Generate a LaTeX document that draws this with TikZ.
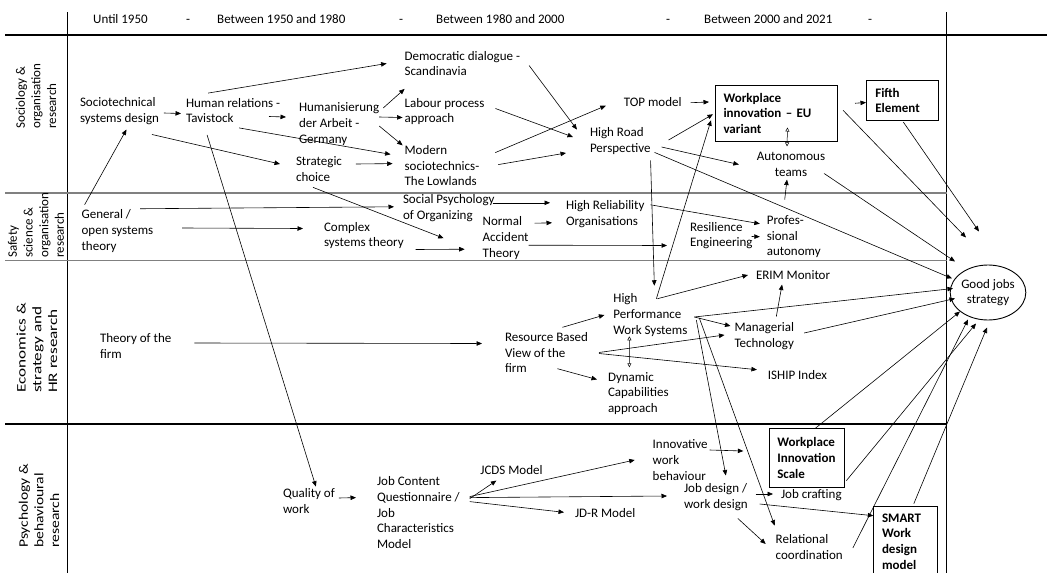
\documentclass[tikz,border=0pt]{standalone}
\usepackage{fontspec}
\setmainfont{Carlito}
\usetikzlibrary{arrows.meta,shapes.geometric}

\begin{document}
\begin{tikzpicture}[
    x=1pt, y=-1pt,
    font=\fontsize{13}{15.7}\selectfont,
    txt/.style={
        anchor=west,
        align=left,
        inner sep=0pt,
        outer sep=0pt
    },
    hdr/.style={
        anchor=base west,
        inner sep=0pt
    },
    rowlabel/.style={
        anchor=west,
        align=left,
        inner sep=0pt,
        rotate=90
    },
    bx/.style={
        draw,
        line width=1pt,
        anchor=north west,
        align=left,
        inner ysep=0pt,
        font=\fontsize{13}{15.7}\selectfont\bfseries
    },
    goal/.style={
        draw,
        ellipse,
        line width=0.9pt,
        align=center,
        inner sep=0pt,
        minimum width=71pt,
        minimum height=55pt
    },
    arr/.style={-{Triangle[length=5.5pt,width=4.5pt]}, line width=0.6pt},
    dbl/.style={{Triangle[open,length=4pt,width=4pt]}-{Triangle[open,length=4pt,width=4pt]}, line width=0.5pt},
    grid/.style={line width=1.1pt},
    greygrid/.style={line width=1.1pt, black!50}
]

\fill[white] (0,0) rectangle (1047,573);
\useasboundingbox (0,0) rectangle (1047,573);

% table lines
\draw[grid] (5,35) -- (1047,35);
\draw[grid] (67.5,12) -- (67.5,573);
\draw[grid] (946.5,12) -- (946.5,573);
\draw[greygrid] (5,193) -- (946.5,193);
\draw[greygrid] (5,260.5) -- (946.5,260.5);
\draw[grid] (5,424) -- (946.5,424);

% header
\node[hdr] (h1) at (93,23.5) {Until 1950};
\node[hdr] (h2) at (186,23.5) {-};
\node[hdr] (h3) at (217,23.5) {Between 1950 and 1980};
\node[hdr] (h4) at (399,23.5) {-};
\node[hdr] (h5) at (436,23.5) {Between 1980 and 2000};
\node[hdr] (h6) at (666,23.5) {-};
\node[hdr] (h7) at (704,23.5) {Between 2000 and 2021};
\node[hdr] (h8) at (868,23.5) {-};

% row labels
\node[rowlabel] (r1) at (36,129) {Sociology \&\\organisation\\research};
\node[rowlabel] (r2) at (36,258) {Safety\\science \&\\organisation\\research};
\node[rowlabel, xscale=1.32] (r3) at (37,393) {Economics \&\\strategy and\\HR research};
\node[rowlabel, xscale=1.2] (r4) at (39,548) {Psychology \&\\behavioural\\research};

% sociology row
\node[txt] (std) at (80,111) {Sociotechnical\\systems design};
\node[txt] (hr) at (186,110.5) {Human relations -\\Tavistock};
\node[txt] (hda) at (299,124) {Humanisierung\\der Arbeit -\\Germany};
\node[txt] (dd) at (404.6,63.5) {Democratic dialogue -\\Scandinavia};
\node[txt] (lpa) at (404.6,111.5) {Labour process\\approach};
\node[txt] (ms) at (404.6,165.6) {Modern\\sociotechnics-\\The Lowlands};
\node[txt] (sc) at (296,169) {Strategic\\choice};
\node[txt] (topm) at (623.8,101.7) {TOP model};
\node[txt] (hrp) at (590,141) {High Road\\Perspective};
\node[bx, text width=106pt, inner xsep=8pt, minimum height=55.5pt] (wi) at (715,85)
    {Workplace\\innovation – EU\\variant};
\node[bx, text width=54pt, inner xsep=8.8pt, minimum height=40pt] (fifth) at (866,80)
    {Fifth\\Element};
\node[txt, anchor=center, align=center] (at) at (791,164.5) {Autonomous\\teams};

% safety row
\node[txt] (gos) at (81.6,231) {General /\\open systems\\theory};
\node[txt] (spo) at (403,207.8) {Social Psychology\\of Organizing};
\node[txt] (cst) at (324,235.5) {Complex\\systems theory};
\node[txt] (nat) at (482.7,238.2) {Normal\\Accident\\Theory};
\node[txt] (hro) at (566,213.8) {High Reliability\\Organisations};
\node[txt] (re) at (690,235.5) {Resilience\\Engineering};
\node[txt] (pa) at (766.8,236.7) {Profes-\\sional\\autonomy};

% economics row
\node[txt] (tof) at (100,346) {Theory of the\\firm};
\node[txt] (rbv) at (505,352.5) {Resource Based\\View of the\\firm};
\node[txt] (hpws) at (613.4,315) {High\\Performance\\Work Systems};
\node[txt] (erim) at (756,275) {ERIM Monitor};
\node[txt] (mt) at (734.5,336) {Managerial\\Technology};
\node[txt] (ishp) at (767.9,374.7) {ISHIP Index};
\node[txt] (dca) at (608,393.5) {Dynamic\\Capabilities\\approach};
\node[goal] (gj) at (988,292.5) {Good jobs\\strategy};

% psychology row
\node[txt] (qw) at (283,501) {Quality of\\work};
\node[txt] (jcq) at (377,512.6) {Job Content\\Questionnaire /\\Job\\Characteristics\\Model};
\node[txt] (jcds) at (480.4,470) {JCDS Model};
\node[txt] (jdr) at (575,513.3) {JD-R Model};
\node[txt] (iwb) at (652.7,460) {Innovative\\work\\behaviour};
\node[txt] (jd) at (684,497) {Job design /\\work design};
\node[txt] (jcr) at (781,495) {Job crafting};
\node[txt] (rc) at (775.7,547) {Relational\\coordination};
\node[bx, text width=60pt, inner xsep=7.5pt, minimum height=58.4pt] (wis) at (769.3,428.3)
    {Workplace\\Innovation\\Scale};
\node[bx, text width=47.6pt, inner xsep=8.2pt, minimum height=70.6pt] (smart) at (873.3,505.7)
    {SMART\\Work\\design\\model};

% sociology links
\draw[arr] ([shift={(5,2)}]std.east) -- ([shift={(-5,3)}]hr.west);
\draw[arr] ([shift={(83,6)}]hr.west) -- ([shift={(-13,-7)}]hda.west);
\draw[arr] ([shift={(-25,-5)}]hr.north) -- ([shift={(-18,0)}]dd.west);
\draw[arr] ([shift={(4,-16)}]hda.east) -- ([shift={(0,13)}]dd.south west);
\draw[arr] ([shift={(0,-7)}]hda.east) -- ([shift={(-2,6)}]lpa.west);
\draw[arr] ([shift={(0,2)}]hda.east) -- ([shift={(-2,0)}]ms.north west);
\draw[arr] ([shift={(6,5)}]hr.south) -- ([shift={(-14,9)}]ms.north west);
\draw[arr] ([shift={(-7,10)}]std.south east) -- ([shift={(-16,-5)}]sc.west);
\draw[arr] ([shift={(14,-5)}]sc.east) -- ([shift={(-12,-2)}]ms.west);
\draw[arr] ([shift={(3,-5)}]gos.north west) -- ([shift={(7,5)}]std.south);
\draw[arr] ([shift={(-26,12)}]hr.south) -- ([shift={(7,-2)}]qw.north);
\draw[arr] ([shift={(-6,6)}]sc.south) -- ([shift={(-39,0)}]nat.west);
\draw[arr] ([shift={(11,-3)}]lpa.east) -- ([shift={(-17,-4)}]hrp.west);
\draw[arr] ([shift={(9,2)}]dd.east) -- ([shift={(-13,2)}]hrp.north west);
\draw[arr] ([shift={(16,-13)}]ms.east) -- ([shift={(-18,4)}]topm.west);
\draw[arr] ([shift={(19,-1)}]ms.east) -- ([shift={(-24,12)}]hrp.west);
\draw[arr] ([shift={(9,1)}]topm.east) -- ([shift={(-6,17)}]wi.north west);
\draw[arr] ([shift={(18,-1)}]hrp.east) -- ([shift={(-2,1)}]wi.west);
\draw[arr] ([shift={(11,6)}]hrp.east) -- ([shift={(-18,0)}]at.west);
\draw[arr] ([shift={(0,6)}]hrp.south east) -- ([shift={(4,-8)}]hpws.north);
\draw[arr] ([shift={(17,-10)}]wi.east) -- ([shift={(0,2)}]fifth.west);
\draw[dbl] ([shift={(11,-14)}]wi.south) -- ([shift={(-4,-6)}]at.north);
\draw[arr] ([shift={(-9,-16)}]pa.north) -- ([shift={(-4,3)}]at.south);

% safety links
\draw[arr] ([shift={(-13,-1)}]gos.north east) -- ([shift={(-9,-1)}]spo.west);
\draw[arr] ([shift={(29,-3)}]gos.east) -- ([shift={(-21,-7)}]cst.west);
\draw[arr] ([shift={(12,14)}]cst.east) -- ([shift={(-18,11)}]nat.west);
\draw[arr] ([shift={(-2,-5)}]spo.east) -- ([shift={(-16,-11)}]hro.west);
\draw[arr] ([shift={(6,-15)}]nat.east) -- ([shift={(-14,9)}]hro.west);
\draw[arr] ([shift={(0,7)}]nat.east) -- ([shift={(-23,10)}]re.west);
\draw[arr] ([shift={(6,-9)}]hro.east) -- ([shift={(-7,-13)}]pa.west);
\draw[arr] ([shift={(-1,1)}]re.east) -- ([shift={(-7,0)}]pa.west);

% economics links
\draw[arr] ([shift={(23,-3)}]tof.east) -- ([shift={(-23,-9)}]rbv.west);
\draw[arr] ([shift={(16,-5)}]rbv.north) -- ([shift={(-9,0)}]hpws.west);
\draw[arr] ([shift={(11,0)}]rbv.east) -- ([shift={(-10,-1)}]mt.west);
\draw[arr] ([shift={(11,1)}]rbv.east) -- ([shift={(-11,-5)}]ishp.west);
\draw[arr] ([shift={(11,-4)}]rbv.south) -- ([shift={(-11,-14)}]dca.west);
\draw[dbl] ([shift={(-21,0)}]hpws.south) -- ([shift={(-9,-5)}]dca.north);
\draw[arr] ([shift={(7,2)}]hpws.east) -- ([shift={(-4,-10)}]mt.west);
\draw[arr] ([shift={(12,-6)}]mt.north) -- ([shift={(-11,5)}]erim.south);
\draw[arr] ([shift={(7,5)}]hpws.north) -- ([shift={(-8,0)}]erim.west);
\draw[arr] ([shift={(6,5)}]hpws.north) -- ([shift={(-4,7)}]wi.west);
\draw[arr] ([shift={(9,5)}]hpws.east) -- ([shift={(10,-8)}]jd.north);
\draw[arr] ([shift={(12,3)}]hpws.east) -- ([shift={(-1,-9)}]rc.north west);

% psychology links
\draw[arr] ([shift={(4,-3)}]qw.east) -- ([shift={(-21,-15)}]jcq.west);
\draw[arr] ([shift={(10,-14)}]jcq.east) -- ([shift={(16,6)}]jcds.south west);
\draw[arr] ([shift={(10,-16)}]jcq.east) -- ([shift={(-18,0)}]iwb.west);
\draw[arr] ([shift={(10,-15)}]jcq.east) -- ([shift={(-17,-1)}]jd.west);
\draw[arr] ([shift={(10,-11)}]jcq.east) -- ([shift={(-11,-1)}]jdr.west);
\draw[arr] ([shift={(2,-10)}]iwb.east) -- ([shift={(-26,-7)}]wis.west);
\draw[arr] ([shift={(8,-3)}]jd.east) -- ([shift={(-8,-1)}]jcr.west);
\draw[arr] ([shift={(12,7)}]jd.east) -- ([shift={(0,10)}]smart.north west);
\draw[arr] ([shift={(22,8)}]jd.south) -- ([shift={(-10,-3)}]rc.west);

% into the good jobs strategy
\draw[arr] ([shift={(1,1)}]fifth.south) -- ([shift={(-9,-61)}]gj.center);
\draw[arr] ([shift={(5,-3)}]wi.east) -- ([shift={(-22,-55)}]gj.center);
\draw[arr] ([shift={(-1,9)}]at.east) -- ([shift={(-33,-31)}]gj.center);
\draw[arr] ([shift={(4,-2)}]hrp.south east) -- ([shift={(-36,-14)}]gj.center);
\draw[arr] ([shift={(7,2)}]hpws.east) -- ([shift={(-35,-4)}]gj.center);
\draw[arr] ([shift={(10,-3)}]mt.east) -- ([shift={(-33,6)}]gj.center);
\draw[arr] ([shift={(8,0)}]wis.north) -- ([shift={(-28,19)}]gj.center);
\draw[arr] ([shift={(10,1)}]rc.east) -- ([shift={(-20,27)}]gj.center);
\draw[arr] ([shift={(1,-7)}]wis.south east) -- ([shift={(-12,31)}]gj.center);
\draw[arr] ([shift={(8,-2)}]smart.north) -- ([shift={(-1,35)}]gj.center);

\end{tikzpicture}
\end{document}
